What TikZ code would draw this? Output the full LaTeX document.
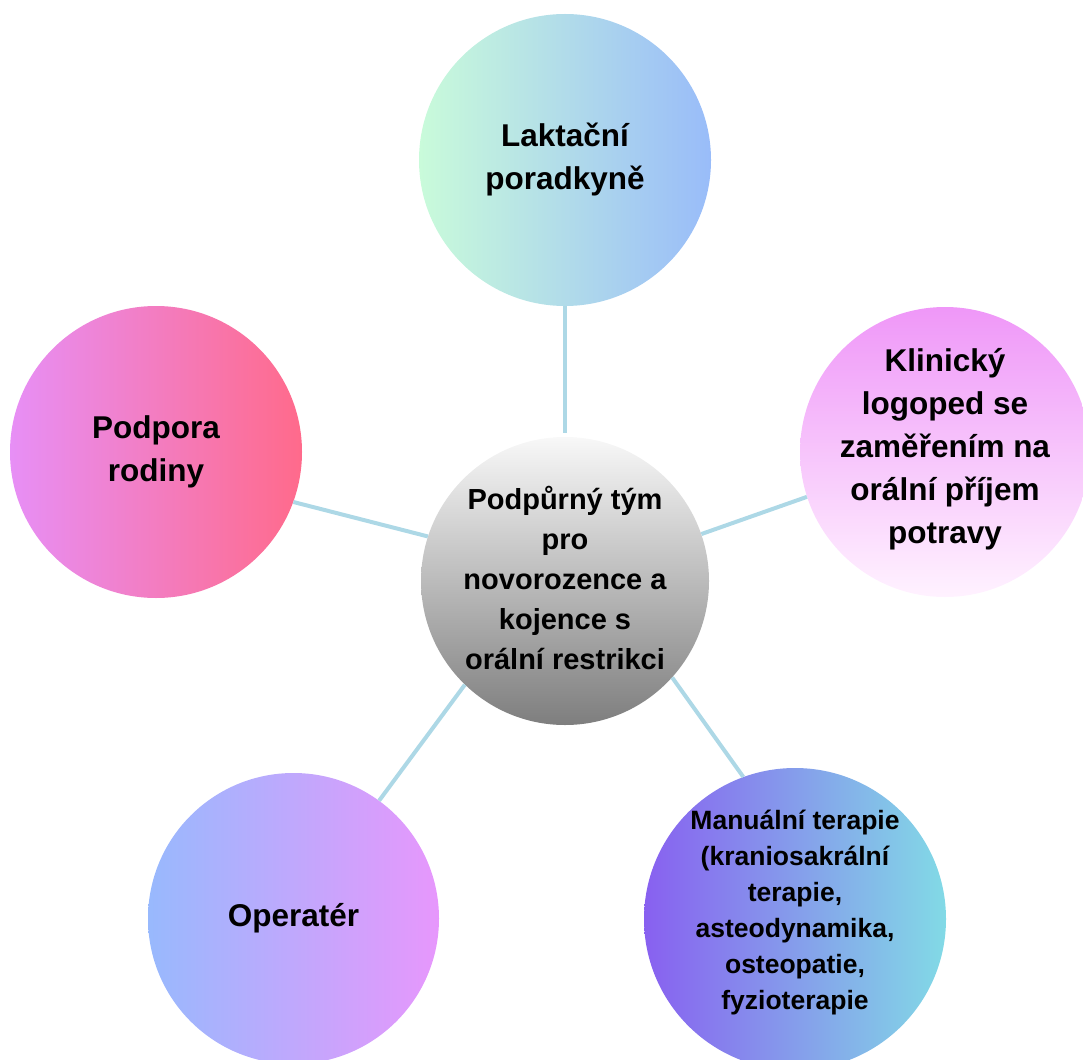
\documentclass[tikz,border=0pt]{standalone}
\usepackage{fontspec}
\setmainfont{Liberation Sans}
\definecolor{linkc}{HTML}{ADD8E6}
\definecolor{topL}{HTML}{C9FBDA}
\definecolor{topR}{HTML}{99BCF9}
\definecolor{famL}{HTML}{E78FF6}
\definecolor{famR}{HTML}{FF6A8B}
\definecolor{logT}{HTML}{EF97F8}
\definecolor{logB}{HTML}{FFF2FF}
\definecolor{cenT}{HTML}{F8F8F8}
\definecolor{cenB}{HTML}{7E7E7E}
\definecolor{opL}{HTML}{98B9FD}
\definecolor{opR}{HTML}{E797FC}
\definecolor{manL}{HTML}{8860F0}
\definecolor{manR}{HTML}{82DAE6}
\tikzset{
  bubble/.style={circle, inner sep=0pt, align=center, font=\bfseries\fontsize{31.5}{43}\selectfont},
  bubtext/.style={align=center, inner sep=0pt, font=\bfseries\fontsize{31.5}{43}\selectfont},
  link/.style={draw=linkc, line width=4pt}
}
\begin{document}
\begin{tikzpicture}[x=1pt,y=-1pt]
\useasboundingbox (0,0) rectangle (1083,1059);
\node[bubble, minimum size=292pt, left color=topL, right color=topR] (lak) at (565,160) {Laktační\\poradkyně};
\node[bubble, minimum size=292pt, left color=famL, right color=famR] (fam) at (156,452) {Podpora\\rodiny};
\node[bubble, minimum size=290pt, top color=logT, bottom color=logB,
  label={[bubtext, yshift=3pt]center:Klinický\\logoped se\\zaměřením na\\orální příjem\\potravy}] (log) at (945,452) {};
\node[bubble, minimum size=288pt, top color=cenT, bottom color=cenB,
  label={[bubtext, yshift=3.5pt, font=\bfseries\fontsize{29}{40}\selectfont]center:Podpůrný tým\\pro\\novorozence a\\kojence s\\orální restrikci}] (cen) at (565,581) {};
\node[bubble, minimum size=291pt, left color=opL, right color=opR] (op) at (293.5,918.5) {Operatér};
\node[bubble, minimum size=302pt, left color=manL, right color=manR,
  label={[bubtext, yshift=6pt, font=\bfseries\fontsize{26.5}{36}\selectfont]center:Manuální terapie\\(kraniosakrální\\terapie,\\asteodynamika,\\osteopatie,\\fyzioterapie}] (man) at (795,919) {};
\draw[link, shorten >=4pt] (lak.270) -- (cen.90);
\draw[link] (fam.340.3) -- (cen.162.6);
\draw[link] (cen.19.3) -- (log.198);
\draw[link] (cen.226) -- (op.54.5);
\draw[link] (cen.318) -- (man.110.2);
\end{tikzpicture}
\end{document}
